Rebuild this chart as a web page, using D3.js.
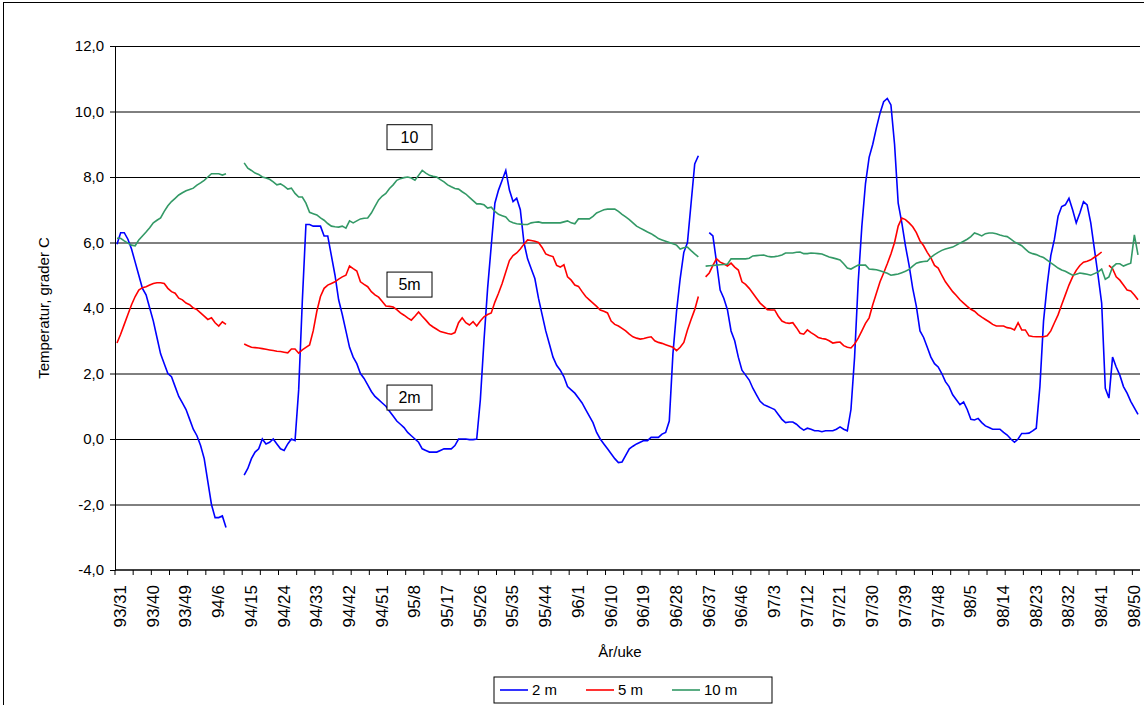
<!DOCTYPE html>
<meta charset="utf-8">
<body style="margin:0;background:#fff">
<script src="https://d3js.org/d3.v7.min.js"></script>
<script>

// week labels, one every 9 weekly categories
var weekLabels = ["93/31","93/40","93/49","94/6","94/15","94/24","94/33","94/42","94/51","95/8","95/17","95/26","95/35","95/44","96/1","96/10","96/19","96/28","96/37","96/46","97/3","97/12","97/21","97/30","97/39","97/48","98/5","98/14","98/23","98/32","98/41","98/50"];
var yTicks = [-4, -2, 0, 2, 4, 6, 8, 10, 12];

// weekly temperature, 2 m (null = no measurement)
var t2 = [5.95,6.3,6.3,6.1,5.8,5.4,5.0,4.6,4.4,4.0,3.6,3.1,2.6,2.3,2.0,1.9,1.6,1.3,1.1,0.9,0.6,0.3,0.1,-0.2,-0.6,-1.3,-2.0,-2.4,-2.4,-2.35,-2.7,
null,null,null,null,
-1.1,-0.9,-0.6,-0.4,-0.3,0,-0.15,-0.1,0,-0.15,-0.3,-0.35,-0.15,0,-0.05,1.5,4.2,6.55,6.55,6.5,6.5,6.5,6.2,6.2,5.6,5.0,4.25,3.8,3.3,2.8,2.5,2.3,2.0,1.85,1.65,1.45,1.3,1.2,1.1,1.0,0.85,0.7,0.55,0.45,0.35,0.2,0.1,0.0,-0.1,-0.3,-0.35,-0.4,-0.4,-0.4,-0.35,-0.3,-0.3,-0.3,-0.2,0.0,0.0,0.0,-0.02,-0.02,0.0,
1.2,3.0,4.6,5.9,7.2,7.6,7.9,8.2,7.6,7.25,7.35,7.0,6.0,5.5,5.2,4.9,4.3,3.8,3.3,2.9,2.5,2.25,2.1,1.9,1.6,1.5,1.4,1.25,1.1,0.9,0.7,0.5,0.2,0,-0.15,-0.3,-0.45,-0.6,-0.72,-0.7,-0.5,-0.3,-0.22,-0.15,-0.1,-0.05,-0.05,0.05,0.05,0.05,0.15,0.2,0.55,2.6,3.9,4.9,5.7,6.0,7.2,8.4,8.65,
null,null,
6.3,6.2,5.4,4.55,4.3,3.95,3.3,3.0,2.5,2.1,1.95,1.8,1.55,1.35,1.15,1.05,1.0,0.95,0.9,0.75,0.6,0.5,0.52,0.52,0.45,0.35,0.27,0.33,0.3,0.25,0.25,0.22,0.25,0.25,0.25,0.3,0.37,0.3,0.25,0.9,2.5,4.8,6.5,7.8,8.6,9.0,9.5,9.95,10.3,10.4,10.2,9.0,7.2,6.6,5.9,5.3,4.6,4.05,3.3,3.1,2.8,2.5,2.3,2.2,2.0,1.75,1.6,1.35,1.2,1.05,1.13,0.9,0.6,0.58,0.63,0.5,0.4,0.35,0.3,0.3,0.3,0.2,0.12,0.0,-0.1,0.0,0.17,0.17,0.18,0.25,0.33,1.6,3.6,4.7,5.6,6.1,6.8,7.1,7.15,7.35,7.0,6.6,6.9,7.25,7.15,6.6,5.8,5.0,4.15,1.55,1.25,2.5,2.2,1.95,1.6,1.4,1.15,0.95,0.75];

// weekly temperature, 5 m
var t5 = [2.93,3.2,3.5,3.8,4.1,4.35,4.55,4.62,4.65,4.7,4.75,4.77,4.77,4.75,4.6,4.5,4.45,4.3,4.25,4.15,4.1,4.0,3.95,3.85,3.75,3.65,3.7,3.55,3.45,3.58,3.5,
null,null,null,null,
2.9,2.85,2.8,2.79,2.78,2.76,2.74,2.72,2.7,2.68,2.67,2.65,2.63,2.75,2.75,2.62,2.72,2.8,2.87,3.3,3.9,4.35,4.6,4.7,4.75,4.8,4.88,4.95,5.0,5.28,5.2,5.13,4.8,4.72,4.65,4.5,4.4,4.33,4.2,4.06,4.05,4.03,3.95,3.85,3.78,3.7,3.63,3.75,3.88,3.75,3.63,3.5,3.42,3.35,3.28,3.25,3.22,3.2,3.25,3.55,3.7,3.55,3.48,3.58,3.45,3.6,3.73,3.8,3.85,4.18,4.45,4.75,5.1,5.45,5.6,5.68,5.8,5.95,6.08,6.06,6.04,6.0,5.85,5.65,5.6,5.57,5.3,5.25,5.32,4.95,4.85,4.7,4.66,4.5,4.35,4.25,4.15,4.05,3.94,3.9,3.85,3.6,3.5,3.45,3.38,3.3,3.2,3.12,3.08,3.05,3.07,3.1,3.12,3.0,2.95,2.92,2.88,2.84,2.8,2.7,2.8,2.95,3.33,3.65,3.95,4.35,
null,
4.95,5.07,5.3,5.5,5.4,5.35,5.28,5.37,5.25,5.16,4.8,4.72,4.6,4.45,4.3,4.15,4.05,3.95,3.94,3.94,3.75,3.6,3.55,3.53,3.55,3.4,3.23,3.2,3.33,3.25,3.18,3.1,3.07,3.05,3.0,2.93,2.95,2.96,2.85,2.8,2.78,2.9,3.08,3.3,3.53,3.7,4.1,4.45,4.8,5.07,5.35,5.65,6.0,6.5,6.75,6.7,6.6,6.48,6.3,6.05,5.9,5.7,5.53,5.3,5.22,5.0,4.8,4.65,4.5,4.38,4.25,4.15,4.05,3.96,3.9,3.8,3.72,3.65,3.58,3.5,3.45,3.45,3.45,3.4,3.38,3.33,3.55,3.33,3.33,3.15,3.13,3.12,3.12,3.12,3.15,3.3,3.55,3.79,4.1,4.4,4.7,4.95,5.15,5.3,5.4,5.43,5.47,5.55,5.62,5.71,
null,
5.3,5.2,4.95,4.85,4.7,4.55,4.52,4.4,4.25];

// weekly temperature, 10 m
var t10 = [6.13,6.13,6.05,5.98,5.92,5.9,6.08,6.2,6.32,6.45,6.6,6.68,6.75,6.95,7.12,7.25,7.35,7.45,7.52,7.58,7.62,7.66,7.75,7.82,7.9,8.0,8.1,8.1,8.1,8.06,8.1,
null,null,null,null,
8.43,8.27,8.2,8.12,8.08,8.0,7.97,7.93,7.85,7.76,7.79,7.72,7.63,7.66,7.5,7.39,7.39,7.2,6.92,6.88,6.84,6.75,6.68,6.58,6.5,6.48,6.47,6.5,6.44,6.66,6.6,6.66,6.72,6.74,6.75,6.9,7.1,7.3,7.42,7.5,7.65,7.76,7.9,7.95,7.98,8.0,7.97,7.9,8.05,8.2,8.12,8.05,8.02,8.0,7.92,7.85,7.76,7.7,7.65,7.63,7.55,7.48,7.38,7.28,7.18,7.18,7.15,7.05,7.08,6.95,6.86,6.82,6.78,6.65,6.6,6.57,6.56,6.55,6.55,6.6,6.62,6.63,6.6,6.6,6.6,6.6,6.6,6.6,6.63,6.66,6.6,6.57,6.72,6.72,6.72,6.72,6.8,6.9,6.95,7.0,7.02,7.02,7.02,6.95,6.86,6.78,6.7,6.6,6.5,6.44,6.38,6.32,6.27,6.2,6.12,6.08,6.04,6.0,5.96,5.92,5.8,5.84,5.86,5.75,5.65,5.56,
null,
5.28,5.29,5.3,5.31,5.32,5.33,5.34,5.5,5.5,5.5,5.5,5.5,5.52,5.59,5.6,5.61,5.62,5.58,5.56,5.57,5.59,5.62,5.68,5.68,5.68,5.7,5.71,5.66,5.66,5.68,5.67,5.66,5.65,5.6,5.56,5.53,5.5,5.47,5.35,5.22,5.19,5.25,5.31,5.31,5.31,5.19,5.18,5.17,5.14,5.1,5.06,5.0,5.02,5.04,5.08,5.12,5.18,5.28,5.37,5.4,5.42,5.43,5.55,5.63,5.7,5.76,5.8,5.83,5.86,5.92,5.98,6.04,6.1,6.18,6.29,6.25,6.2,6.27,6.29,6.29,6.27,6.23,6.2,6.18,6.1,6.02,5.96,5.9,5.8,5.7,5.66,5.63,5.58,5.54,5.46,5.38,5.3,5.22,5.16,5.12,5.06,5.0,5.03,5.07,5.05,5.03,5.0,5.05,5.1,5.19,4.88,4.95,5.25,5.35,5.35,5.28,5.33,5.37,6.23,5.62];

var series = [
  {name: "2 m", values: t2, color: "#0000ff"},
  {name: "5 m", values: t5, color: "#ff0000"},
  {name: "10 m", values: t10, color: "#339966"}
];
var notes = [{text: "10", v: 9.2}, {text: "5m", v: 4.7}, {text: "2m", v: 1.25}];

var W = 1144, H = 705;
var plotLeft = 115, plotRight = 1140, plotTop = 46, plotBottom = 570;
var nWeeks = t2.length;

var svg = d3.select("body").append("svg").attr("width", W).attr("height", H)
  .style("font-family", "Arial, 'Liberation Sans', sans-serif");

svg.append("rect").attr("x", 3.5).attr("y", 2.5).attr("width", W - 2).attr("height", H - 2)
  .attr("fill", "none").attr("stroke", "#000");

var x = d3.scaleLinear().domain([0, nWeeks - 1]).range([117, 1138]);
var y = d3.scaleLinear().domain([-4, 12]).range([plotBottom, plotTop]);

// gridlines
svg.append("g").selectAll("line").data(yTicks.filter(function(d) { return d > -4; }))
  .join("line")
  .attr("x1", plotLeft).attr("x2", plotRight)
  .attr("y1", function(d) { return y(d) + 0.5; }).attr("y2", function(d) { return y(d) + 0.5; })
  .attr("stroke", "#000").attr("stroke-width", 1);

// y axis
var fmt = function(d) { return d3.format(".1f")(d).replace(".", ",").replace("−", "-"); };
var ya = svg.append("g").attr("transform", "translate(" + plotLeft + ",0)")
  .call(d3.axisLeft(y).tickValues(yTicks).tickFormat(fmt).tickSize(5).tickPadding(6));
ya.select(".domain").attr("stroke", "#000");
ya.selectAll("text").attr("font-size", 15).attr("fill", "#000");

// x axis
var tickPos = d3.range(0, 60).map(function(k) { return k * 5 - 0.55; }).filter(function(t) { return x(t) <= plotRight; });
var xa = svg.append("g").attr("transform", "translate(0," + plotBottom + ")");
xa.append("line").attr("x1", plotLeft).attr("x2", plotRight).attr("stroke", "#000").attr("stroke-width", 1.5);
xa.selectAll("line.t").data(tickPos).join("line").attr("class", "t")
  .attr("x1", function(d) { return x(d); }).attr("x2", function(d) { return x(d); })
  .attr("y1", 0).attr("y2", 5).attr("stroke", "#000");
xa.selectAll("text").data(weekLabels).join("text")
  .attr("transform", function(d, i) { return "translate(" + (x(i * 9) + 9) + ",15) rotate(-90)"; })
  .attr("text-anchor", "end").attr("font-size", 17).text(function(d) { return d; });

svg.append("text").attr("x", 620).attr("y", 657).attr("text-anchor", "middle")
  .attr("font-size", 15).text("År/uke");
svg.append("text").attr("transform", "translate(49,308) rotate(-90)").attr("text-anchor", "middle")
  .attr("font-size", 15).text("Temperatur, grader C");

// lines
var line = d3.line()
  .defined(function(d) { return d != null; })
  .x(function(d, i) { return x(i); })
  .y(function(d) { return y(d); });

svg.append("g").selectAll("path").data(series).join("path")
  .attr("d", function(s) { return line(s.values); })
  .attr("fill", "none").attr("stroke", function(s) { return s.color; })
  .attr("stroke-width", 1.6);

// depth notes
var ng = svg.append("g").selectAll("g").data(notes).join("g")
  .attr("transform", function(d) { return "translate(387," + (y(d.v) - 13) + ")"; });
ng.append("rect").attr("width", 45).attr("height", 25).attr("fill", "#fff").attr("stroke", "#000");
ng.append("text").attr("x", 22.5).attr("y", 18).attr("text-anchor", "middle").attr("font-size", 16)
  .text(function(d) { return d.text; });

// legend
var lg = svg.append("g").attr("transform", "translate(494,677)");
lg.append("rect").attr("width", 278).attr("height", 26).attr("fill", "#fff").attr("stroke", "#000");
var off = [6, 92, 178];
series.forEach(function(s, i) {
  lg.append("line").attr("x1", off[i]).attr("x2", off[i] + 28).attr("y1", 13).attr("y2", 13)
    .attr("stroke", s.color).attr("stroke-width", 1.6);
  lg.append("text").attr("x", off[i] + 32).attr("y", 18).attr("font-size", 15).text(s.name);
});

</script>
